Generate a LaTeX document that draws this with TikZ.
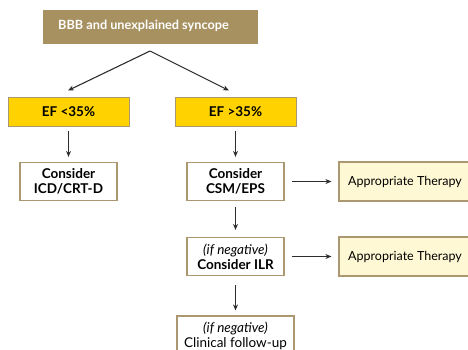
\documentclass[tikz,border=0pt]{standalone}
\usepackage{fontspec}
\setmainfont{Lato}
\usepackage{tikz}
\usetikzlibrary{arrows.meta, positioning}
\definecolor{headcolor}{RGB}{168, 145, 97}
\definecolor{efcolor}{RGB}{255, 210, 0}
\definecolor{boxline}{RGB}{172, 152, 112}
\definecolor{therapycolor}{RGB}{255, 248, 212}
\definecolor{arrowcolor}{RGB}{45, 45, 45}

\tikzset{
  textsize/.style={font=\fontsize{13.5}{15}\selectfont},
  headbox/.style={fill=headcolor, minimum width=215pt, minimum height=34pt},
  efbox/.style={draw=boxline, line width=1pt, fill=efcolor, minimum width=121pt, minimum height=29pt, font=\fontsize{13.5}{15}\selectfont\bfseries},
  stepbox/.style={draw=boxline, line width=1.2pt, fill=white, minimum width=97pt, minimum height=38pt, align=center, inner sep=2pt},
  therapybox/.style={draw=boxline, line width=1.2pt, fill=therapycolor, minimum width=132pt, minimum height=39pt, font=\fontsize{12.5}{15}\selectfont},
  flow/.style={-{Stealth[length=6pt, width=5pt]}, line width=1.1pt, arrowcolor}
}

\begin{document}
\begin{tikzpicture}[x=1pt, y=-1pt, textsize]
        \useasboundingbox (0, 0) rectangle (468, 349);
        \clip (0, 0) rectangle (468, 349);

        % Header
        \node[headbox] (head) at (150.5, 27) {};
        \node[font=\fontsize{12.7}{15}\selectfont\bfseries, text=white] (headtext) at (143.5, 26) {BBB and unexplained syncope};
        \coordinate (split) at (150, 51);

        % EF branches
        \node[efbox] (eflow) at (68.5, 111.5) {EF <35\%};
        \node[efbox] (efhigh) at (235.5, 111.5) {EF >35\%};

        % Steps
        \node[stepbox, font=\fontsize{13.5}{15}\selectfont\bfseries] (icd) at (68.5, 181.5) {Consider\\ICD/CRT-D};
        \node[stepbox, font=\fontsize{13.5}{15}\selectfont\bfseries] (csm) at (235.5, 181.5) {Consider\\CSM/EPS};
        \node[stepbox] (ilr) at (235.5, 256.5) {\textit{(if negative)}\\\textbf{Consider ILR}};
        \node[stepbox, minimum width=117pt, minimum height=40pt] (followup) at (235.5, 336) {\textit{(if negative)}\\Clinical follow-up};

        % Therapy
        \node[therapybox] (therapy1) at (405, 181.5) {Appropriate Therapy};
        \node[therapybox] (therapy2) at (405, 256.5) {Appropriate Therapy};

        % Connections
        \draw[flow] (split) -- ([xshift=-0.5pt, yshift=6pt]eflow.north);
        \draw[flow] (split) -- ([xshift=-6.5pt, yshift=6pt]efhigh.north);
        \draw[flow, shorten <=4pt, shorten >=5pt] (eflow) -- (icd);
        \draw[flow, shorten <=4pt, shorten >=5pt] (efhigh) -- (csm);
        \draw[flow, shorten <=7pt, shorten >=7pt] (csm) -- (therapy1);
        \draw[flow, shorten <=6pt, shorten >=7pt] (csm) -- (ilr);
        \draw[flow, shorten <=7pt, shorten >=7pt] (ilr) -- (therapy2);
        \draw[flow, shorten <=9pt, shorten >=5pt] (ilr) -- (followup);
    \end{tikzpicture}
\end{document}
